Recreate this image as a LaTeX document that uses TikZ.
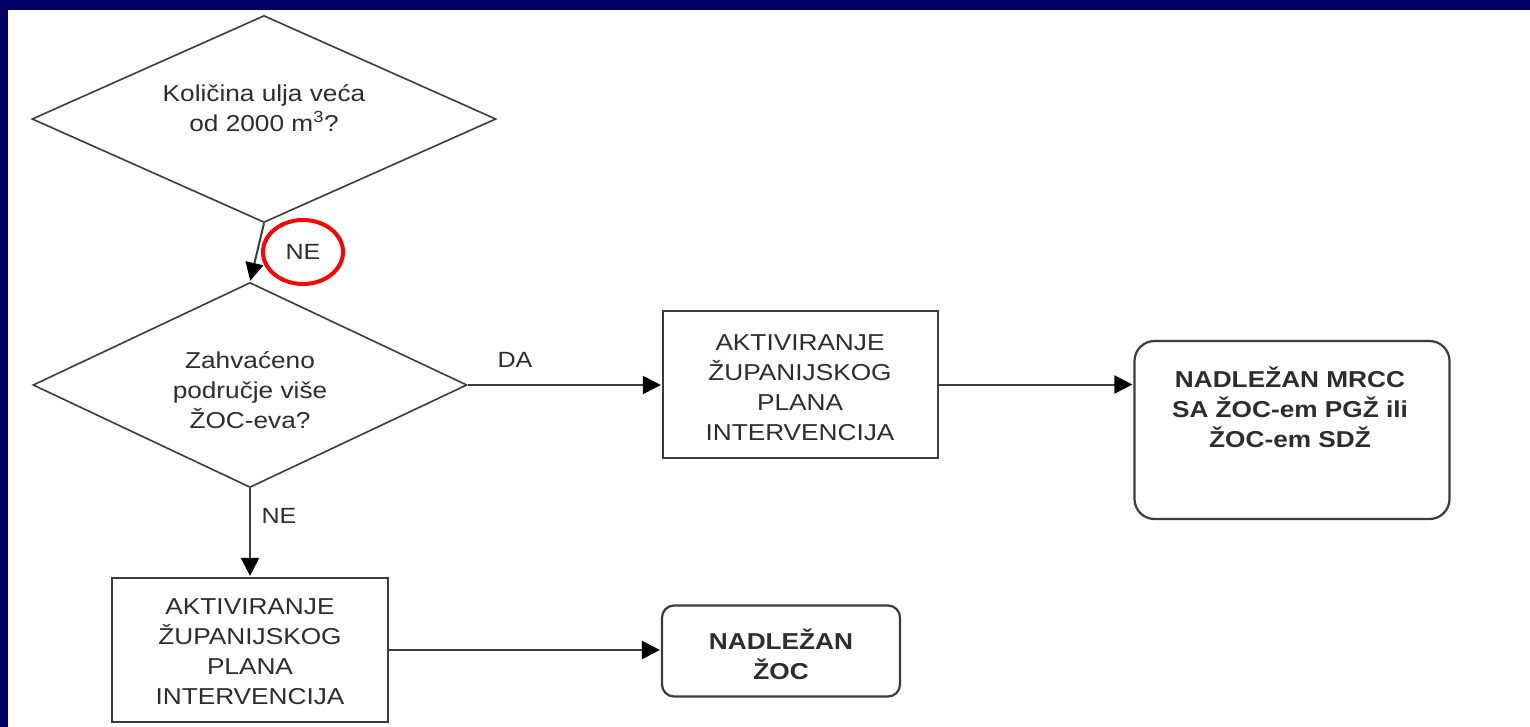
\documentclass[tikz,border=0pt]{standalone}
\usepackage{fontspec}
\setmainfont[FakeStretch=1.14]{Liberation Sans}
\usetikzlibrary{shapes.geometric,arrows.meta}
\definecolor{navy}{RGB}{0,0,104}
\definecolor{ink}{RGB}{45,45,45}
\definecolor{edge}{RGB}{60,60,60}
\tikzset{
  dia/.style={draw=edge, line width=1.6pt, diamond, inner sep=0pt},
  box/.style={draw=edge, line width=2.2pt, rectangle, inner sep=0pt},
  rbox/.style={draw=edge, line width=2.2pt, rectangle, inner sep=0pt},
  txt/.style={text=ink, align=center, font=\fontsize{23}{30}\selectfont, inner sep=0pt},
  btxt/.style={txt, font=\fontsize{23}{30}\selectfont\bfseries},
  conn/.style={draw=edge, line width=2pt, -{Triangle[length=18pt,width=18pt,color=black]}, shorten >=1pt},
  lab/.style={text=ink, font=\fontsize{22}{26}\selectfont, inner sep=0pt},
}
\begin{document}
\begin{tikzpicture}[x=1pt,y=-1pt]
\useasboundingbox (0,0) rectangle (1530,727);
\fill[white] (0,0) rectangle (1530,727);
\fill[navy] (0,0) rectangle (1530,10);
\fill[navy] (0,0) rectangle (8,727);

% shapes
\node[dia, minimum width=464pt, minimum height=207pt] (d1) at (264,119) {};
\node[dia, minimum width=434pt, minimum height=205pt] (d2) at (250,385) {};
\node[box, minimum width=275pt, minimum height=147pt] (b2) at (800.5,384.5) {};
\node[rbox, rounded corners=20pt, minimum width=315pt, minimum height=178pt] (m) at (1292,430) {};
\node[box, minimum width=276pt, minimum height=144pt] (b3) at (250,650) {};
\node[rbox, rounded corners=12pt, minimum width=238pt, minimum height=91pt] (z) at (781,651) {};

% texts
\node[txt] (t1) at (264,108) {Količina ulja veća\\od 2000 m\textsuperscript{3}?};
\node[txt] (t2) at (250,390) {Zahvaćeno\\područje više\\ŽOC-eva?};
\node[txt] (t3) at (800,388) {AKTIVIRANJE\\ŽUPANIJSKOG\\PLANA\\INTERVENCIJA};
\node[btxt] (t4) at (1290,407) {NADLEŽAN MRCC\\SA ŽOC-em PGŽ ili\\ŽOC-em SDŽ};
\node[txt] (t5) at (250,652) {AKTIVIRANJE\\ŽUPANIJSKOG\\PLANA\\INTERVENCIJA};
\node[btxt] (t6) at (781,654) {NADLEŽAN\\ŽOC};

% connectors
\draw[conn] (d1.south) -- (d2.north);
\draw[conn] (d2.south) -- (b3.north);
\draw[conn] (d2.east) -- (d2.east -| b2.west);
\draw[conn] (b2.east) -- (b2.east -| m.west);
\draw[conn] (b3.east) -- (b3.east -| z.west);

% labels
\node[lab, draw=red, line width=4pt, ellipse, minimum width=80pt, minimum height=64pt] (ne1) at (303,252) {NE};
\node[lab] (ne2) at (279,516) {NE};
\node[lab] (da) at (515,360) {DA};
\end{tikzpicture}
\end{document}
